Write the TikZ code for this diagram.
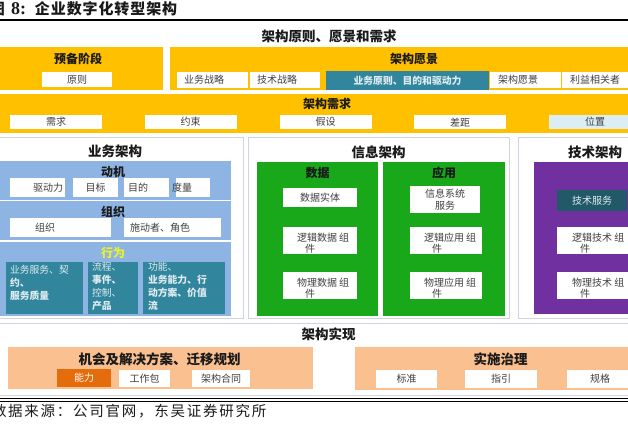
\documentclass[tikz,border=0pt]{standalone}
\usepackage{fontspec}
\setmainfont{Noto Sans CJK SC}
\newfontfamily\titlefont{Noto Sans CJK SC}[LetterSpace=6]
\newfontfamily\notefont{Noto Sans CJK SC}[LetterSpace=12]
\newfontfamily\numfont{Liberation Serif}
\usetikzlibrary{positioning}

\definecolor{jgold}{RGB}{255,192,0}
\definecolor{jteal}{RGB}{49,133,156}
\definecolor{jdteal}{RGB}{33,89,104}
\definecolor{jblue}{RGB}{141,180,226}
\definecolor{jgreen}{RGB}{25,168,25}
\definecolor{jpurple}{RGB}{112,48,160}
\definecolor{jpeach}{RGB}{250,192,144}
\definecolor{jorange}{RGB}{228,108,10}
\definecolor{jpale}{RGB}{219,238,244}
\definecolor{framec}{RGB}{208,212,224}
\definecolor{inkc}{RGB}{26,26,26}
\definecolor{labc}{RGB}{64,64,64}
\definecolor{lightc}{RGB}{224,236,241}
\definecolor{yelc}{RGB}{236,242,40}

\begin{document}
\begin{tikzpicture}[x=1pt,y=-1pt,
  every node/.style={inner sep=0pt,outer sep=0pt},
  lab/.style={font=\fontsize{10}{12}\selectfont,text=labc},
  wbox/.style={fill=white,lab},
  ybox/.style={fill=jgold},
  panel/.style={draw=framec,line width=1pt,fill=white},
  h1/.style={font=\fontsize{13.5}{15}\selectfont\bfseries,text=inkc},
  h2/.style={font=\fontsize{12}{14}\selectfont\bfseries,text=inkc},
  twoline/.style={lab,align=left,anchor=west,font=\fontsize{10}{11}\selectfont},
  tealtxt/.style={align=left,anchor=north west,text=lightc,font=\fontsize{9.8}{13}\selectfont}]
  \useasboundingbox (0,0) rectangle (628,429);
  \clip (0,0) rectangle (628,429);

  % heading
  \node[anchor=west,text=inkc,font=\fontsize{15}{17}\selectfont\bfseries] (tuti) at (-10,9)
    {\titlefont 图\hspace{6pt}{\numfont\fontsize{18}{18}\selectfont 8:}\hspace{9pt}企业数字化转型架构};
  \draw[line width=1.2pt] (-2,20) -- (630,20);

  % principles, vision, requirements
  \node[h1] (yjxq) at (329,36) {架构原则、愿景和需求};
  \node[ybox,minimum width=164,minimum height=43] (yubei) at (81,68.5) {};
  \node[h2] (yubeit) at (78,59) {预备阶段};
  \node[wbox,minimum width=70,minimum height=15] (yuanze) at (77,79.5) {原则};

  \node[ybox,minimum width=470,minimum height=43] (yjbox) at (405,68.5) {};
  \node[h2] (yjboxt) at (414,59) {架构愿景};
  \node[wbox,minimum width=71,minimum height=16] (ywzl) at (212.5,80) {};
  \node[lab,anchor=west] (ywzlt) at ([xshift=7pt]ywzl.west) {业务战略};
  \node[wbox,minimum width=70,minimum height=16] (jszl) at (285,80) {};
  \node[lab,anchor=west] (jszlt) at ([xshift=7pt]jszl.west) {技术战略};
  \node[fill=jteal,minimum width=163,minimum height=19,text=lightc,
    font=\fontsize{9.8}{12}\selectfont\bfseries] (yzmd) at (407.5,80.5) {业务原则、目的和驱动力};
  \node[wbox,minimum width=71,minimum height=16] (jgyj) at (525.5,80) {};
  \node[lab,anchor=west] (jgyjt) at ([xshift=8pt]jgyj.west) {架构愿景};
  \node[wbox,minimum width=78,minimum height=16] (lyxg) at (601,80) {};
  \node[lab,anchor=west] (lyxgt) at ([xshift=8pt]lyxg.west) {利益相关者};

  \node[ybox,minimum width=642,minimum height=39] (xqband) at (319,113.5) {};
  \node[h2] (xqbandt) at (327,103.5) {架构需求};
  \node[wbox,minimum width=92,minimum height=14] (xuqiu) at (56,122) {需求};
  \node[wbox,minimum width=92,minimum height=14] (yueshu) at (190.5,122) {约束};
  \node[wbox,minimum width=92,minimum height=14] (jiashe) at (325.5,122) {假设};
  \node[wbox,minimum width=92,minimum height=14] (chaju) at (460,122) {差距};
  \node[wbox,fill=jpale,minimum width=92,minimum height=14] (weizhi) at (595,122) {位置};

  % business architecture
  \node[panel,minimum width=245,minimum height=181] (ywjg) at (120.5,227.5) {};
  \node[h1] (ywjgt) at (115,151.5) {业务架构};
  \node[fill=jblue,minimum width=233,minimum height=39] (dongji) at (114.5,180.5) {};
  \node[h2] (dongjit) at (113,171.5) {动机};
  \node[wbox,minimum width=55,minimum height=19] (qdl) at (37.5,187.5) {};
  \node[lab,anchor=east] (qdlt) at ([xshift=-2pt]qdl.east) {驱动力};
  \node[wbox,minimum width=45,minimum height=19] (mubiao) at (95.5,187.5) {目标};
  \node[wbox,minimum width=45,minimum height=19] (mudi) at (146.5,187.5) {};
  \node[lab,anchor=west] (mudit) at ([xshift=4pt]mudi.west) {目的};
  \node[wbox,minimum width=34,minimum height=19] (duliang) at (193,187.5) {};
  \node[lab,anchor=west] (duliangt) at ([xshift=-4pt]duliang.west) {度量};

  \node[fill=jblue,minimum width=233,minimum height=39] (zuzhi) at (114.5,220.5) {};
  \node[h2] (zuzhit) at (113,212) {组织};
  \node[wbox,minimum width=101,minimum height=19] (zz) at (60.5,227.5) {};
  \node[lab,anchor=west] (zzt) at ([xshift=25pt]zz.west) {组织};
  \node[wbox,minimum width=97,minimum height=19] (sdz) at (172.5,227.5) {};
  \node[lab,anchor=west] (sdzt) at ([xshift=6pt]sdz.west) {施动者、角色};

  \node[fill=jblue,minimum width=233,minimum height=74] (xingwei) at (114.5,279) {};
  \node[h2,text=yelc] (xingweit) at (113,252.5) {行为};
  \node[fill=jteal,minimum width=77,minimum height=52] (xw1) at (44.5,288) {};
  \node[tealtxt] (xw1t) at ([shift={(4,3)}]xw1.north west)
    {业务服务、契\\\textbf{约、}\\\textbf{服务质量}};
  \node[fill=jteal,minimum width=50,minimum height=52] (xw2) at (113,288) {};
  \node[tealtxt] (xw2t) at ([shift={(4,0.5)}]xw2.north west)
    {流程、\\\textbf{事件、}\\控制、\\\textbf{产品}};
  \node[fill=jteal,minimum width=82,minimum height=52] (xw3) at (184,288) {};
  \node[tealtxt] (xw3t) at ([shift={(5,0.5)}]xw3.north west)
    {功能、\\\textbf{业务能力、行}\\\textbf{动方案、价值}\\\textbf{流}};

  % information architecture
  \node[panel,minimum width=261,minimum height=181] (xxjg) at (378.5,227.5) {};
  \node[h1] (xxjgt) at (378.5,152.5) {信息架构};
  \node[fill=jgreen,minimum width=121,minimum height=154] (shuju) at (317.5,239) {};
  \node[h2] (shujut) at (317.5,173) {数据};
  \node[wbox,minimum width=74,minimum height=19] (sjst) at (320,197.5) {数据实体};
  \node[wbox,minimum width=74,minimum height=27] (ljsj) at (320,240.5) {};
  \node[twoline] (ljsjt) at ([shift={(14,2.5)}]ljsj.west) {逻辑数据 组\\\hspace*{8pt}件};
  \node[wbox,minimum width=74,minimum height=27] (wlsj) at (320,285.5) {};
  \node[twoline] (wlsjt) at ([shift={(14,2.5)}]wlsj.west) {物理数据 组\\\hspace*{8pt}件};

  \node[fill=jgreen,minimum width=122,minimum height=154] (yingyong) at (444,239) {};
  \node[h2] (yingyongt) at (444,173) {应用};
  \node[wbox,minimum width=70,minimum height=27,align=center,
    font=\fontsize{10}{12}\selectfont] (xxxt) at (445,199.5) {信息系统\\服务};
  \node[wbox,minimum width=72,minimum height=27] (ljyy) at (446,240.5) {};
  \node[twoline] (ljyyt) at ([shift={(14,2.5)}]ljyy.west) {逻辑应用 组\\\hspace*{8pt}件};
  \node[wbox,minimum width=72,minimum height=27] (wlyy) at (446,285.5) {};
  \node[twoline] (wlyyt) at ([shift={(14,2.5)}]wlyy.west) {物理应用 组\\\hspace*{8pt}件};

  % technology architecture
  \node[panel,minimum width=122,minimum height=181] (jsjg) at (579,227.5) {};
  \node[h1] (jsjgt) at (595,152.5) {技术架构};
  \node[fill=jpurple,minimum width=111,minimum height=152] (jishu) at (589.5,238) {};
  \node[fill=jdteal,minimum width=70,minimum height=21,text=lightc,
    font=\fontsize{10}{12}\selectfont] (jsfw) at (592,200.5) {技术服务};
  \node[wbox,minimum width=88,minimum height=27] (ljjs) at (601,240.5) {};
  \node[twoline] (ljjst) at ([shift={(15,2.5)}]ljjs.west) {逻辑技术 组\\\hspace*{8pt}件};
  \node[wbox,minimum width=88,minimum height=27] (wljs) at (601,285.5) {};
  \node[twoline] (wljst) at ([shift={(15,2.5)}]wljs.west) {物理技术 组\\\hspace*{8pt}件};

  % realisation
  \node[panel,minimum width=642,minimum height=72] (jgsx) at (319,359) {};
  \node[h1] (jgsxt) at (328.5,334.5) {架构实现};
  \node[fill=jpeach,minimum width=305,minimum height=42] (jihui) at (160.5,368) {};
  \node[h1] (jihuit) at (159.5,359) {机会及解决方案、迁移规划};
  \node[wbox,fill=jorange,text=white,minimum width=54,minimum height=18] (nengli) at (84,378) {能力};
  \node[wbox,minimum width=51,minimum height=17] (gzb) at (144.5,378.5) {工作包};
  \node[wbox,minimum width=58,minimum height=17] (jght) at (221,378.5) {架构合同};
  \node[fill=jpeach,minimum width=290,minimum height=43] (shishi) at (500,368.5) {};
  \node[h1] (shishit) at (500.5,359.5) {实施治理};
  \node[wbox,minimum width=61,minimum height=18] (biaozhun) at (406.5,379) {标准};
  \node[wbox,minimum width=72,minimum height=18] (zhiyin) at (501,379) {指引};
  \node[wbox,minimum width=66,minimum height=18] (guige) at (600,379) {规格};

  % source note
  \draw[line width=1.2pt] (-2,398.5) -- (630,398.5);
  \draw[line width=0.5pt] (-2,401) -- (630,401);
  \node[anchor=west,text=inkc,font=\fontsize{14.5}{16}\selectfont] (laiyuan) at (-8,411)
    {\notefont 数据来源：公司官网，东吴证券研究所};
\end{tikzpicture}
\end{document}
